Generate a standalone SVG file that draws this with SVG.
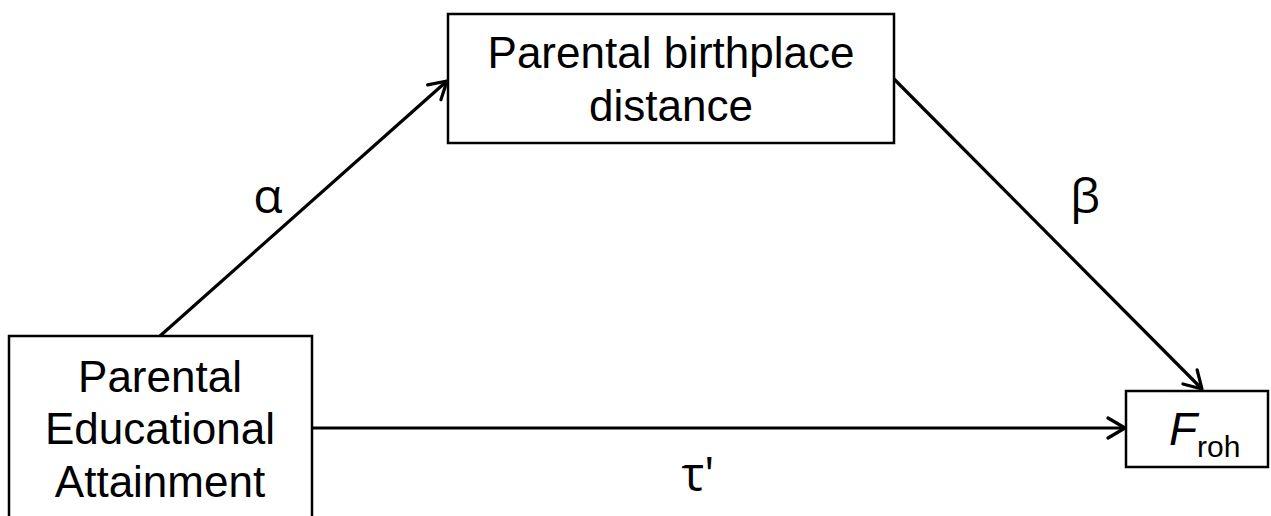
<svg xmlns="http://www.w3.org/2000/svg" width="1271" height="516" viewBox="0 0 1271 516">
<style>
.box{fill:#fff;stroke:#000;stroke-width:2.5}
.lbl{font-family:"Liberation Sans",Arial,sans-serif;font-size:44px;fill:#000;text-anchor:middle}
.greek{font-family:"Open Sans","DejaVu Sans",sans-serif;font-size:48px;fill:#000;text-anchor:middle}
.conn{stroke:#000;stroke-width:3.2;fill:none;marker-end:url(#arr)}
</style>
<defs>
<marker id="arr" markerUnits="userSpaceOnUse" markerWidth="24" markerHeight="24" viewBox="-20 -12 24 24" refX="0" refY="0" orient="auto">
<path d="M-17,-10 L0,0 L-17,10" fill="none" stroke="#000" stroke-width="3.2" stroke-linecap="round" stroke-linejoin="round"/>
</marker>
</defs>
<rect width="1271" height="516" fill="#fff"/>
<g id="connectors">
<line class="conn" x1="160" y1="336" x2="447" y2="81"/>
<line class="conn" x1="894" y1="79" x2="1202" y2="389"/>
<line class="conn" x1="312" y1="428" x2="1125" y2="428"/>
</g>
<g id="node-education">
<rect class="box" x="9" y="336" width="303" height="200"/>
<text class="lbl" x="160" y="392">Parental</text>
<text class="lbl" x="160" y="444">Educational</text>
<text class="lbl" x="160" y="497">Attainment</text>
</g>
<g id="node-birthplace">
<rect class="box" x="448" y="14" width="446" height="129"/>
<text class="lbl" x="671" y="68">Parental birthplace</text>
<text class="lbl" x="671" y="121">distance</text>
</g>
<g id="node-froh">
<rect class="box" x="1126" y="391" width="142" height="76"/>
<text x="1169" y="445" font-family="'Liberation Sans',Arial,sans-serif" fill="#000"><tspan font-size="46" font-style="italic">F</tspan><tspan font-size="30" dy="12">roh</tspan></text>
</g>
<g id="labels">
<text class="greek" x="268" y="213">α</text>
<text class="greek" x="1085" y="213">β</text>
<text class="greek" x="698" y="491">τ'</text>
</g>
</svg>
